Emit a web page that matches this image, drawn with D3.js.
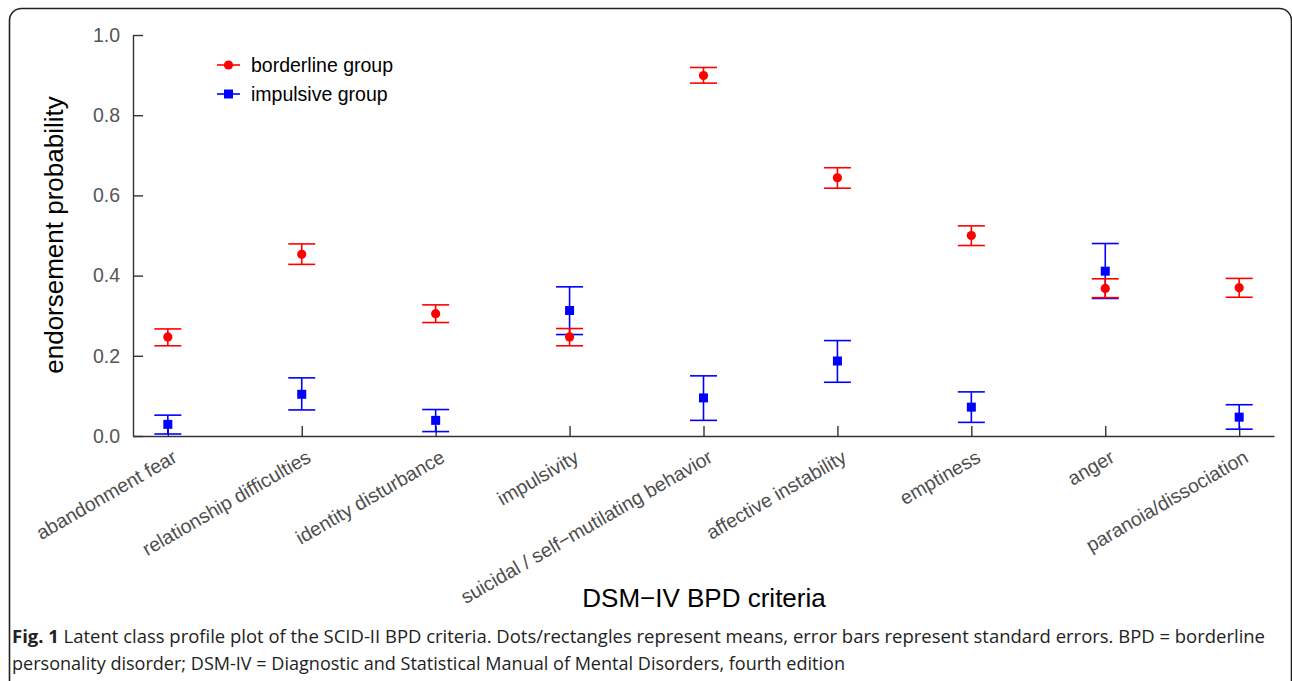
<!DOCTYPE html>
<html>
<head>
<meta charset="utf-8">
<script src="https://cdn.jsdelivr.net/npm/d3@7"></script>
<style>
  body { margin: 0; background: #fff; }
  svg { display: block; }
</style>
</head>
<body>
<div id="viz"></div>
<script>
// categories (x axis)
const criteria = ["abandonment fear", "relationship difficulties", "identity disturbance",
  "impulsivity", "suicidal / self\u2212mutilating behavior", "affective instability",
  "emptiness", "anger", "paranoia/dissociation"];

// borderline group: mean and standard error band
const borderlineMean  = [0.247, 0.453, 0.305, 0.247, 0.899, 0.644, 0.500, 0.368, 0.370];
const borderlineLower = [0.225, 0.428, 0.283, 0.225, 0.880, 0.618, 0.475, 0.345, 0.346];
const borderlineUpper = [0.267, 0.479, 0.327, 0.268, 0.919, 0.669, 0.524, 0.392, 0.393];

// impulsive group
const impulsiveMean  = [0.029, 0.104, 0.039, 0.313, 0.095, 0.187, 0.072, 0.411, 0.047];
const impulsiveLower = [0.005, 0.065, 0.011, 0.253, 0.039, 0.134, 0.034, 0.343, 0.017];
const impulsiveUpper = [0.052, 0.145, 0.066, 0.372, 0.150, 0.238, 0.110, 0.480, 0.078];

const yTicks = [0, 0.2, 0.4, 0.6, 0.8, 1.0];

const w = 1292, h = 681;
const plot = {left: 133, right: 1274, top: 35, bottom: 436};

const svg = d3.select("#viz").append("svg")
  .attr("width", w)
  .attr("height", h);

// outer frame (rounded top, runs off the bottom)
svg.append("rect")
  .attr("x", 9.5).attr("y", 8.5)
  .attr("width", 1282).attr("height", 720)
  .attr("rx", 12)
  .attr("fill", "none")
  .attr("stroke", "#222")
  .attr("stroke-width", 1.6);

const xScale = d3.scalePoint()
  .domain(criteria)
  .range([plot.left, plot.right])
  .padding(0.26);

const yScale = d3.scaleLinear()
  .domain([0, 1])
  .range([plot.bottom, plot.top]);

// y axis, ticks pointing inwards
const yAxis = svg.append("g")
  .attr("transform", `translate(${plot.left},0)`)
  .call(d3.axisLeft(yScale).tickValues(yTicks).tickFormat(d3.format(".1f"))
    .tickSizeInner(-10).tickSizeOuter(0).tickPadding(13));
yAxis.selectAll("text")
  .attr("font-family", "Liberation Sans, Arial, sans-serif")
  .attr("font-size", 19.5)
  .attr("fill", "#555");

// x axis
const xAxis = svg.append("g")
  .attr("transform", `translate(0,${plot.bottom})`)
  .call(d3.axisBottom(xScale).tickSizeInner(-10).tickSizeOuter(0));
xAxis.selectAll("text")
  .attr("y", 0).attr("dy", 0)
  .attr("text-anchor", "end")
  .attr("transform", "translate(10,25) rotate(-30)")
  .attr("font-family", "Liberation Sans, Arial, sans-serif")
  .attr("font-size", 19.5)
  .attr("fill", "#4d4d4d");

svg.selectAll(".domain, .tick line")
  .attr("stroke", "#333")
  .attr("stroke-width", 1.4);

// axis titles
svg.append("text")
  .attr("transform", `translate(63,235) rotate(-90)`)
  .attr("text-anchor", "middle")
  .attr("font-family", "Liberation Sans, Arial, sans-serif")
  .attr("font-size", 26)
  .attr("fill", "#000")
  .text("endorsement probability");

svg.append("text")
  .attr("x", 704).attr("y", 607)
  .attr("text-anchor", "middle")
  .attr("font-family", "Liberation Sans, Arial, sans-serif")
  .attr("font-size", 26)
  .attr("fill", "#000")
  .text("DSM\u2212IV BPD criteria");

// series
const capW = 13.5;
const series = [
  {name: "impulsive group", color: "#0000ff", shape: "square", mean: impulsiveMean, lo: impulsiveLower, hi: impulsiveUpper},
  {name: "borderline group", color: "#ff0000", shape: "circle", mean: borderlineMean, lo: borderlineLower, hi: borderlineUpper}
];

series.forEach(s => {
  const rows = criteria.map((c, i) => ({c: c, m: s.mean[i], lo: s.lo[i], hi: s.hi[i]}));
  const g = svg.append("g");
  g.selectAll(".stem").data(rows).enter().append("line")
    .attr("x1", d => xScale(d.c)).attr("x2", d => xScale(d.c))
    .attr("y1", d => yScale(d.lo)).attr("y2", d => yScale(d.hi))
    .attr("stroke", s.color).attr("stroke-width", 1.6);
  ["lo", "hi"].forEach(k => {
    g.selectAll(".cap-" + k).data(rows).enter().append("line")
      .attr("x1", d => xScale(d.c) - capW).attr("x2", d => xScale(d.c) + capW)
      .attr("y1", d => yScale(d[k])).attr("y2", d => yScale(d[k]))
      .attr("stroke", s.color).attr("stroke-width", 1.6);
  });
  if (s.shape === "circle") {
    g.selectAll("circle").data(rows).enter().append("circle")
      .attr("cx", d => xScale(d.c)).attr("cy", d => yScale(d.m))
      .attr("r", 4.6).attr("fill", s.color);
  } else {
    g.selectAll("rect").data(rows).enter().append("rect")
      .attr("x", d => xScale(d.c) - 4.5).attr("y", d => yScale(d.m) - 4.5)
      .attr("width", 9).attr("height", 9).attr("fill", s.color);
  }
});

// legend
const legend = [series[1], series[0]];
legend.forEach((s, i) => {
  const ly = 65 + i * 29;
  svg.append("line")
    .attr("x1", 217).attr("x2", 240).attr("y1", ly).attr("y2", ly)
    .attr("stroke", s.color).attr("stroke-width", 1.6);
  if (s.shape === "circle") {
    svg.append("circle").attr("cx", 228.5).attr("cy", ly).attr("r", 4.6).attr("fill", s.color);
  } else {
    svg.append("rect").attr("x", 224).attr("y", ly - 4.5).attr("width", 9).attr("height", 9).attr("fill", s.color);
  }
  svg.append("text")
    .attr("x", 251).attr("y", ly).attr("dy", "0.35em")
    .attr("font-family", "Liberation Sans, Arial, sans-serif")
    .attr("font-size", 19.5)
    .attr("fill", "#000")
    .text(s.name);
});

// caption
const cap1 = svg.append("text")
  .attr("x", 12).attr("y", 643)
  .attr("font-family", "Open Sans, sans-serif")
  .attr("font-size", 18.5)
  .attr("fill", "#222")
  .attr("textLength", 1253)
  .attr("lengthAdjust", "spacingAndGlyphs");
cap1.append("tspan").attr("font-weight", "bold").text("Fig. 1");
cap1.append("tspan").text(" Latent class profile plot of the SCID-II BPD criteria. Dots/rectangles represent means, error bars represent standard errors. BPD = borderline");

svg.append("text")
  .attr("x", 12).attr("y", 670)
  .attr("font-family", "Open Sans, sans-serif")
  .attr("font-size", 18.5)
  .attr("fill", "#222")
  .attr("textLength", 833)
  .attr("lengthAdjust", "spacingAndGlyphs")
  .text("personality disorder; DSM-IV = Diagnostic and Statistical Manual of Mental Disorders, fourth edition");
</script>
</body>
</html>
